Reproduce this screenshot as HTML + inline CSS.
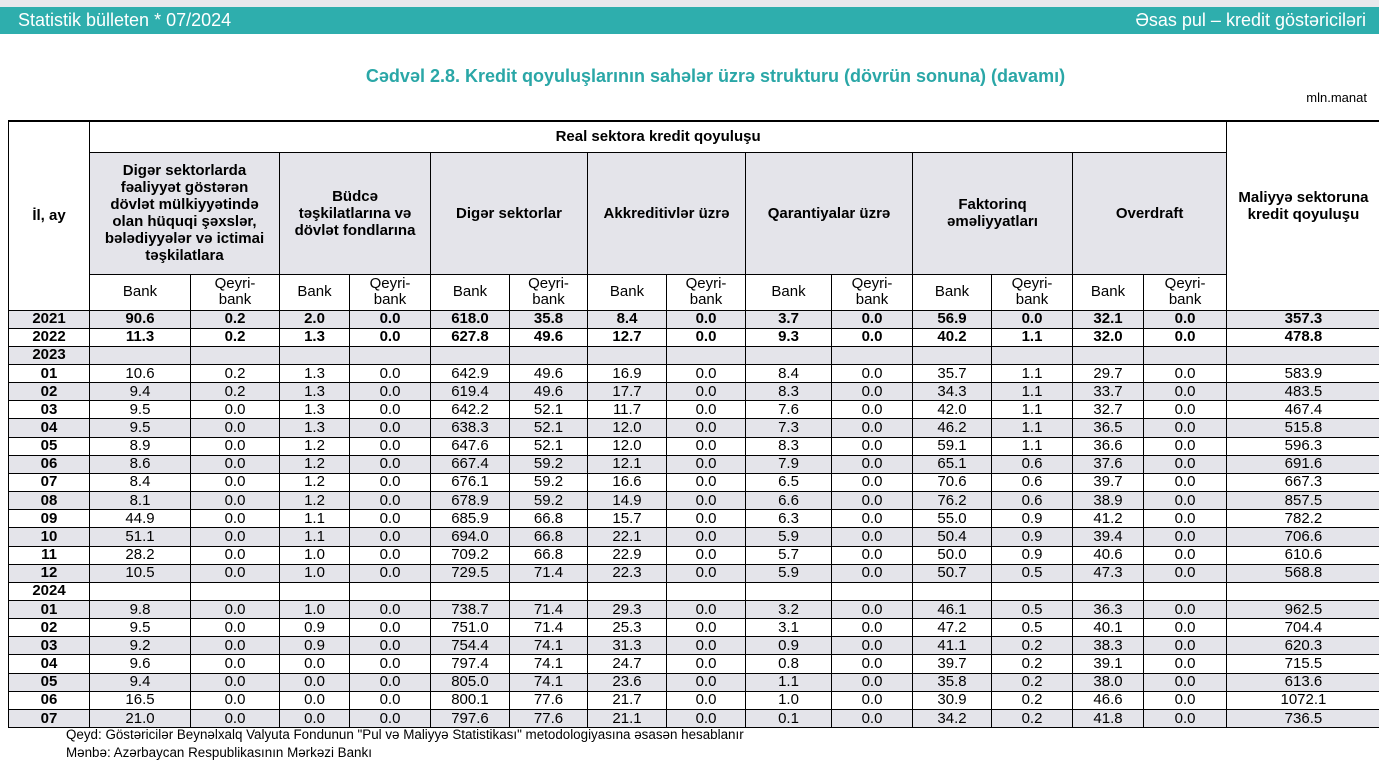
<!DOCTYPE html>
<html><head><meta charset="utf-8"><style>
*{margin:0;padding:0;box-sizing:border-box}
body{width:1379px;height:760px;background:#fff;position:relative;overflow:hidden;font-family:"Liberation Sans",Arial,sans-serif;color:#000}
.top{position:absolute;left:0;top:0;width:1379px;height:7px;background:#e8e8ec}
.band{position:absolute;left:0;top:7px;width:1379px;height:27px;background:#2eaead;color:#fff;font-size:18px;line-height:27px}
.band .l{position:absolute;left:18px}
.band .r{position:absolute;right:13px}
.title{position:absolute;left:0;width:1379px;top:66px;text-align:center;color:#2aa7a7;font-weight:bold;font-size:18px;padding-left:52px}
.unit{position:absolute;right:12px;top:90px;font-size:13px}
table{position:absolute;left:8px;top:120px;border-collapse:collapse;table-layout:fixed;width:1371px}
td{border:1px solid #000;text-align:center;font-size:15px;padding:0;overflow:hidden;white-space:nowrap;line-height:16px}
td.h{font-weight:bold;white-space:normal;line-height:17px;padding:0 6px}
.g{background:#e4e4ea}
tr.d td{height:18.17px}
tr.d td:first-child{font-weight:bold}
tr.b td{font-weight:bold}
tr.s td{line-height:16px}
table tr:first-child td{border-top:2px solid #000}
td.nr{border-right:none}
.foot{position:absolute;left:66px;font-size:13.4px}
</style></head><body>
<div class="top"></div>
<div class="band"><span class="l">Statistik bülleten * 07/2024</span><span class="r">Əsas pul – kredit göstəriciləri</span></div>
<div class="title">Cədvəl 2.8. Kredit qoyuluşlarının sahələr üzrə strukturu (dövrün sonuna) (davamı)</div>
<div class="unit">mln.manat</div>
<table>
<colgroup><col style="width:81px"><col style="width:101px"><col style="width:89px"><col style="width:70px"><col style="width:81px"><col style="width:79px"><col style="width:78px"><col style="width:79px"><col style="width:79px"><col style="width:86px"><col style="width:81px"><col style="width:79px"><col style="width:81px"><col style="width:71px"><col style="width:83px"><col style="width:153px"></colgroup>
<tr style="height:31px"><td rowspan="3" class="h">İl, ay</td><td colspan="14" class="h">Real sektora kredit qoyuluşu</td><td rowspan="3" class="h nr" style="vertical-align:middle;padding-bottom:20px">Maliyyə sektoruna kredit qoyuluşu</td></tr>
<tr style="height:122px"><td colspan="2" class="h g" style="padding:0 12px">Digər sektorlarda fəaliyyət göstərən dövlət mülkiyyətində olan hüquqi şəxslər, bələdiyyələr və ictimai təşkilatlara</td><td colspan="2" class="h g" style="padding:0 10px">Büdcə təşkilatlarına və dövlət fondlarına</td><td colspan="2" class="h g">Digər sektorlar</td><td colspan="2" class="h g">Akkreditivlər üzrə</td><td colspan="2" class="h g">Qarantiyalar üzrə</td><td colspan="2" class="h g" style="padding:0 25px">Faktorinq əməliyyatları</td><td colspan="2" class="h g">Overdraft</td></tr>
<tr class="s" style="height:36px"><td>Bank</td><td>Qeyri-<br>bank</td><td>Bank</td><td>Qeyri-<br>bank</td><td>Bank</td><td>Qeyri-<br>bank</td><td>Bank</td><td>Qeyri-<br>bank</td><td>Bank</td><td>Qeyri-<br>bank</td><td>Bank</td><td>Qeyri-<br>bank</td><td>Bank</td><td>Qeyri-<br>bank</td></tr>
<tr class="d b g"><td>2021</td><td>90.6</td><td>0.2</td><td>2.0</td><td>0.0</td><td>618.0</td><td>35.8</td><td>8.4</td><td>0.0</td><td>3.7</td><td>0.0</td><td>56.9</td><td>0.0</td><td>32.1</td><td>0.0</td><td class="nr">357.3</td></tr>
<tr class="d b"><td>2022</td><td>11.3</td><td>0.2</td><td>1.3</td><td>0.0</td><td>627.8</td><td>49.6</td><td>12.7</td><td>0.0</td><td>9.3</td><td>0.0</td><td>40.2</td><td>1.1</td><td>32.0</td><td>0.0</td><td class="nr">478.8</td></tr>
<tr class="d g"><td>2023</td><td></td><td></td><td></td><td></td><td></td><td></td><td></td><td></td><td></td><td></td><td></td><td></td><td></td><td></td><td class="nr"></td></tr>
<tr class="d"><td>01</td><td>10.6</td><td>0.2</td><td>1.3</td><td>0.0</td><td>642.9</td><td>49.6</td><td>16.9</td><td>0.0</td><td>8.4</td><td>0.0</td><td>35.7</td><td>1.1</td><td>29.7</td><td>0.0</td><td class="nr">583.9</td></tr>
<tr class="d g"><td>02</td><td>9.4</td><td>0.2</td><td>1.3</td><td>0.0</td><td>619.4</td><td>49.6</td><td>17.7</td><td>0.0</td><td>8.3</td><td>0.0</td><td>34.3</td><td>1.1</td><td>33.7</td><td>0.0</td><td class="nr">483.5</td></tr>
<tr class="d"><td>03</td><td>9.5</td><td>0.0</td><td>1.3</td><td>0.0</td><td>642.2</td><td>52.1</td><td>11.7</td><td>0.0</td><td>7.6</td><td>0.0</td><td>42.0</td><td>1.1</td><td>32.7</td><td>0.0</td><td class="nr">467.4</td></tr>
<tr class="d g"><td>04</td><td>9.5</td><td>0.0</td><td>1.3</td><td>0.0</td><td>638.3</td><td>52.1</td><td>12.0</td><td>0.0</td><td>7.3</td><td>0.0</td><td>46.2</td><td>1.1</td><td>36.5</td><td>0.0</td><td class="nr">515.8</td></tr>
<tr class="d"><td>05</td><td>8.9</td><td>0.0</td><td>1.2</td><td>0.0</td><td>647.6</td><td>52.1</td><td>12.0</td><td>0.0</td><td>8.3</td><td>0.0</td><td>59.1</td><td>1.1</td><td>36.6</td><td>0.0</td><td class="nr">596.3</td></tr>
<tr class="d g"><td>06</td><td>8.6</td><td>0.0</td><td>1.2</td><td>0.0</td><td>667.4</td><td>59.2</td><td>12.1</td><td>0.0</td><td>7.9</td><td>0.0</td><td>65.1</td><td>0.6</td><td>37.6</td><td>0.0</td><td class="nr">691.6</td></tr>
<tr class="d"><td>07</td><td>8.4</td><td>0.0</td><td>1.2</td><td>0.0</td><td>676.1</td><td>59.2</td><td>16.6</td><td>0.0</td><td>6.5</td><td>0.0</td><td>70.6</td><td>0.6</td><td>39.7</td><td>0.0</td><td class="nr">667.3</td></tr>
<tr class="d g"><td>08</td><td>8.1</td><td>0.0</td><td>1.2</td><td>0.0</td><td>678.9</td><td>59.2</td><td>14.9</td><td>0.0</td><td>6.6</td><td>0.0</td><td>76.2</td><td>0.6</td><td>38.9</td><td>0.0</td><td class="nr">857.5</td></tr>
<tr class="d"><td>09</td><td>44.9</td><td>0.0</td><td>1.1</td><td>0.0</td><td>685.9</td><td>66.8</td><td>15.7</td><td>0.0</td><td>6.3</td><td>0.0</td><td>55.0</td><td>0.9</td><td>41.2</td><td>0.0</td><td class="nr">782.2</td></tr>
<tr class="d g"><td>10</td><td>51.1</td><td>0.0</td><td>1.1</td><td>0.0</td><td>694.0</td><td>66.8</td><td>22.1</td><td>0.0</td><td>5.9</td><td>0.0</td><td>50.4</td><td>0.9</td><td>39.4</td><td>0.0</td><td class="nr">706.6</td></tr>
<tr class="d"><td>11</td><td>28.2</td><td>0.0</td><td>1.0</td><td>0.0</td><td>709.2</td><td>66.8</td><td>22.9</td><td>0.0</td><td>5.7</td><td>0.0</td><td>50.0</td><td>0.9</td><td>40.6</td><td>0.0</td><td class="nr">610.6</td></tr>
<tr class="d g"><td>12</td><td>10.5</td><td>0.0</td><td>1.0</td><td>0.0</td><td>729.5</td><td>71.4</td><td>22.3</td><td>0.0</td><td>5.9</td><td>0.0</td><td>50.7</td><td>0.5</td><td>47.3</td><td>0.0</td><td class="nr">568.8</td></tr>
<tr class="d"><td>2024</td><td></td><td></td><td></td><td></td><td></td><td></td><td></td><td></td><td></td><td></td><td></td><td></td><td></td><td></td><td class="nr"></td></tr>
<tr class="d g"><td>01</td><td>9.8</td><td>0.0</td><td>1.0</td><td>0.0</td><td>738.7</td><td>71.4</td><td>29.3</td><td>0.0</td><td>3.2</td><td>0.0</td><td>46.1</td><td>0.5</td><td>36.3</td><td>0.0</td><td class="nr">962.5</td></tr>
<tr class="d"><td>02</td><td>9.5</td><td>0.0</td><td>0.9</td><td>0.0</td><td>751.0</td><td>71.4</td><td>25.3</td><td>0.0</td><td>3.1</td><td>0.0</td><td>47.2</td><td>0.5</td><td>40.1</td><td>0.0</td><td class="nr">704.4</td></tr>
<tr class="d g"><td>03</td><td>9.2</td><td>0.0</td><td>0.9</td><td>0.0</td><td>754.4</td><td>74.1</td><td>31.3</td><td>0.0</td><td>0.9</td><td>0.0</td><td>41.1</td><td>0.2</td><td>38.3</td><td>0.0</td><td class="nr">620.3</td></tr>
<tr class="d"><td>04</td><td>9.6</td><td>0.0</td><td>0.0</td><td>0.0</td><td>797.4</td><td>74.1</td><td>24.7</td><td>0.0</td><td>0.8</td><td>0.0</td><td>39.7</td><td>0.2</td><td>39.1</td><td>0.0</td><td class="nr">715.5</td></tr>
<tr class="d g"><td>05</td><td>9.4</td><td>0.0</td><td>0.0</td><td>0.0</td><td>805.0</td><td>74.1</td><td>23.6</td><td>0.0</td><td>1.1</td><td>0.0</td><td>35.8</td><td>0.2</td><td>38.0</td><td>0.0</td><td class="nr">613.6</td></tr>
<tr class="d"><td>06</td><td>16.5</td><td>0.0</td><td>0.0</td><td>0.0</td><td>800.1</td><td>77.6</td><td>21.7</td><td>0.0</td><td>1.0</td><td>0.0</td><td>30.9</td><td>0.2</td><td>46.6</td><td>0.0</td><td class="nr">1072.1</td></tr>
<tr class="d g"><td>07</td><td>21.0</td><td>0.0</td><td>0.0</td><td>0.0</td><td>797.6</td><td>77.6</td><td>21.1</td><td>0.0</td><td>0.1</td><td>0.0</td><td>34.2</td><td>0.2</td><td>41.8</td><td>0.0</td><td class="nr">736.5</td></tr>
</table>
<div class="foot" style="top:727px">Qeyd: Göstəricilər Beynəlxalq Valyuta Fondunun "Pul və Maliyyə Statistikası" metodologiyasına əsasən hesablanır</div>
<div class="foot" style="top:745px">Mənbə: Azərbaycan Respublikasının Mərkəzi Bankı</div>
</body></html>
